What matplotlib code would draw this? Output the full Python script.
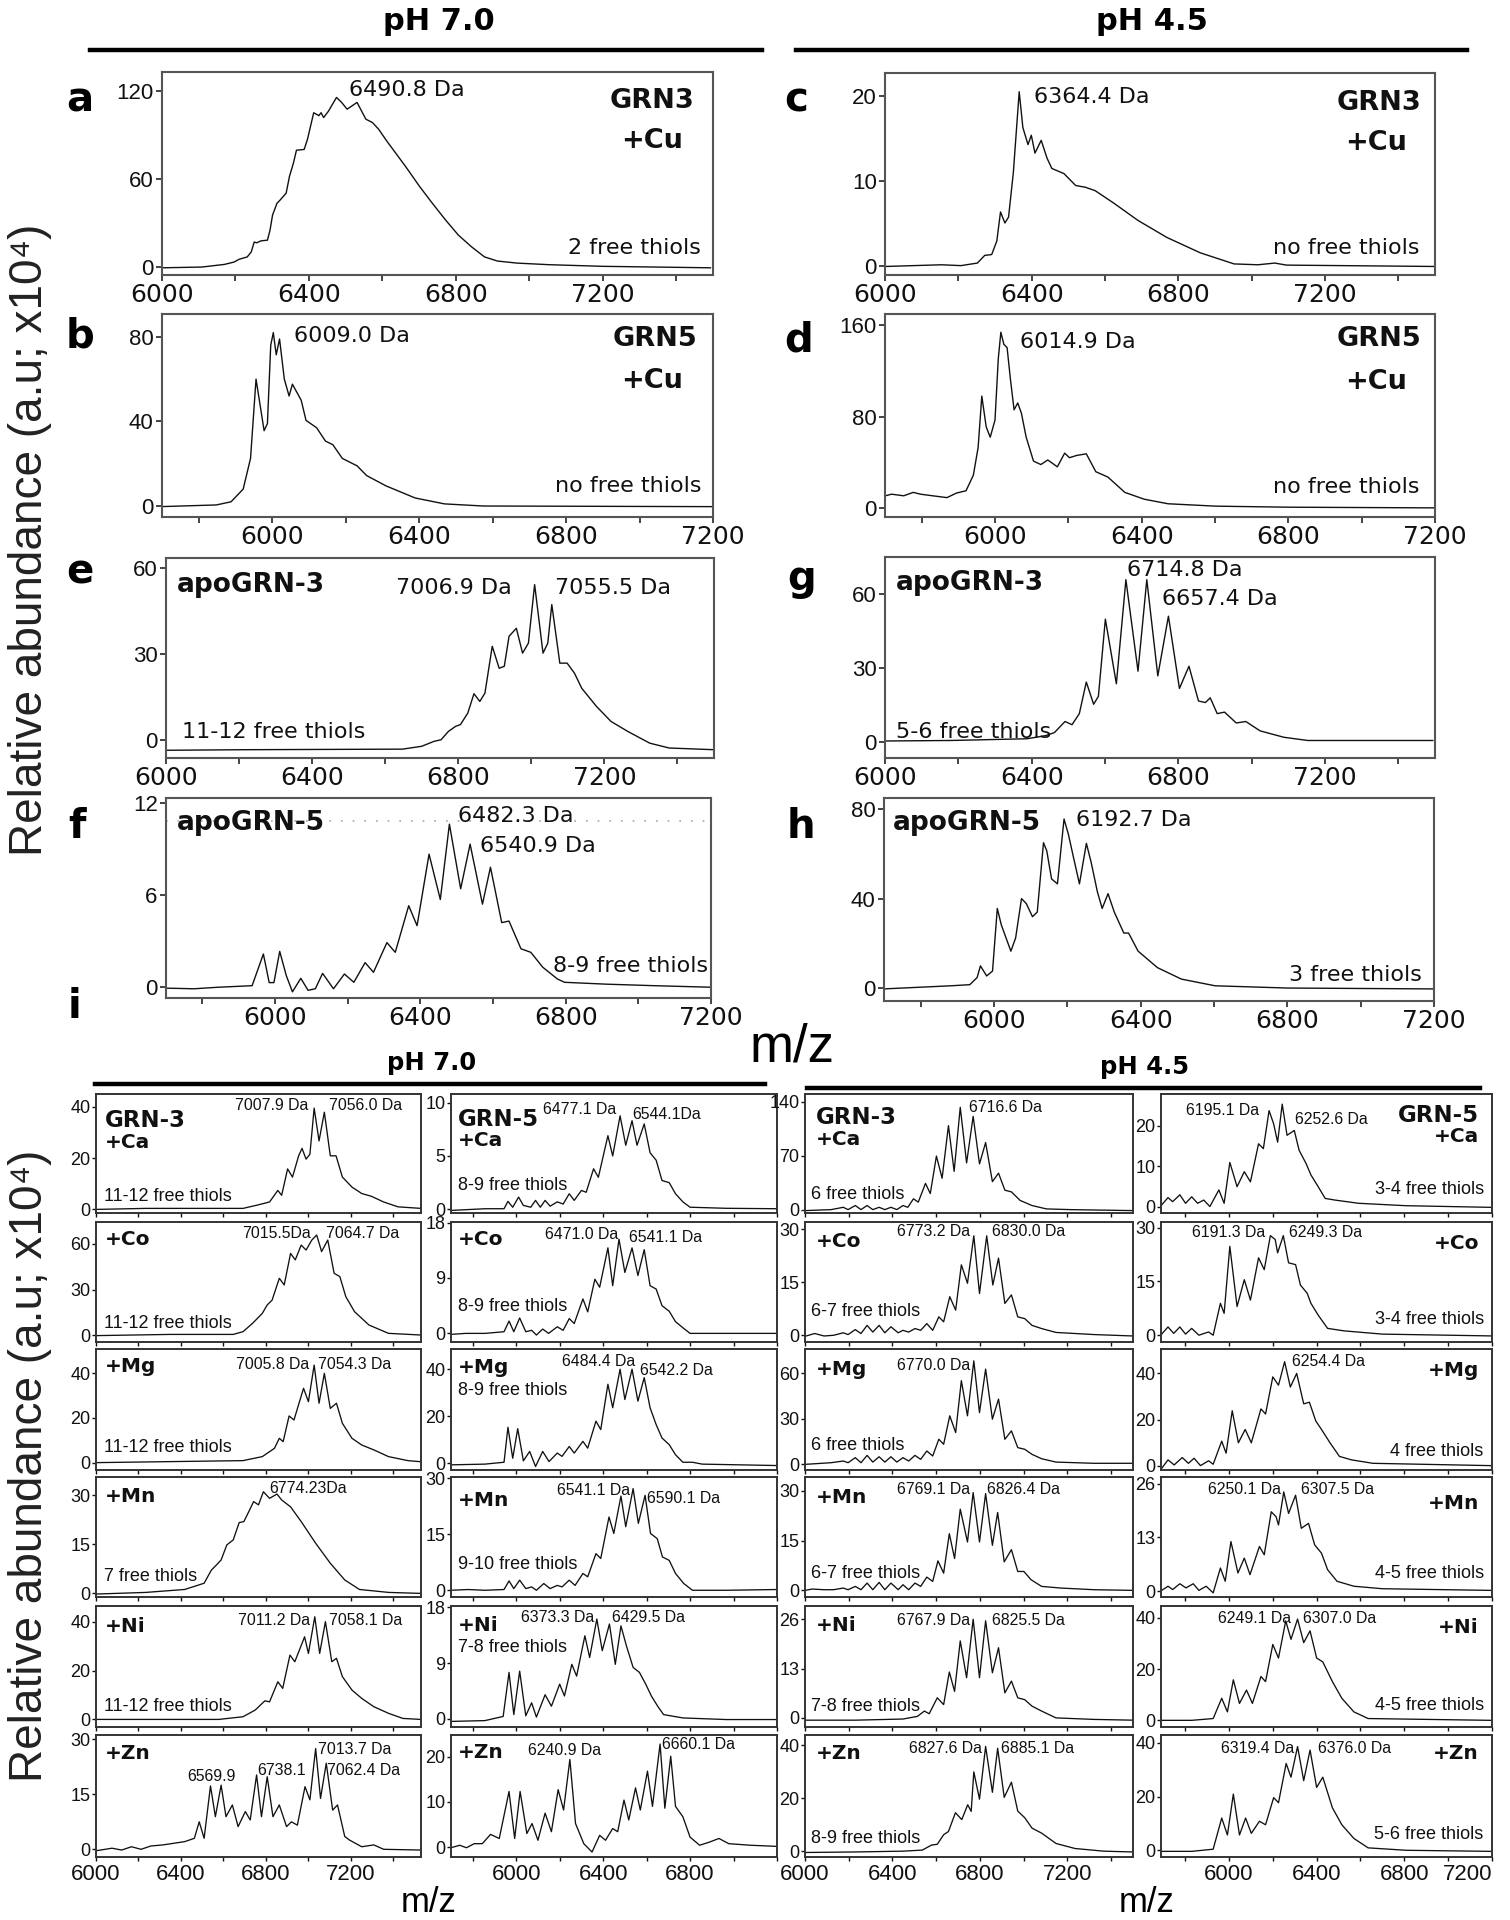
import matplotlib
matplotlib.use('Agg')
import matplotlib.pyplot as plt
from matplotlib.lines import Line2D
from matplotlib.ticker import MultipleLocator

plt.rcParams['font.family'] = ['DejaVu Sans']
NARROW = ['Liberation Sans Narrow', 'Liberation Sans', 'DejaVu Sans']
ARIAL = ['Liberation Sans', 'DejaVu Sans']

W, H = 1510, 1920

# ---------------- top panels (a-h) ----------------
a_mz = [6000, 6108, 6170, 6196, 6210, 6232, 6243, 6251, 6258, 6269, 6287, 6294, 6301, 6313, 6322, 6338, 6347, 6358,
        6366, 6387, 6396, 6413, 6427, 6433, 6440, 6453, 6475, 6489, 6504, 6531, 6555, 6573, 6590, 6612, 6639, 6666,
        6701, 6736, 6772, 6807, 6843, 6878, 6913, 6966, 7055, 7200, 7493]
a_int = [-0.5, 0, 1.8, 3.4, 5.3, 6.9, 10.3, 17, 16.5, 17.8, 18.3, 25, 35.4, 43.4, 45.7, 50.3, 61.7, 70.9,
         79.5, 80, 86.9, 105, 103, 105, 101.7, 106, 115.4, 112, 107.4, 112, 100.6, 98.3, 93.7, 85.7, 76.6, 67.4,
         54.9, 43.4, 32, 21.7, 13.7, 6.9, 4.1, 2.7, 1.6, 0.5, -0.5]

b_mz = [5696, 5848, 5888, 5921, 5941, 5956, 5978, 5987, 5996, 6003, 6011, 6020, 6033, 6046, 6055, 6079, 6092, 6121,
        6145, 6165, 6191, 6231, 6257, 6310, 6389, 6469, 6574, 7200]
b_int = [-0.3, 0.5, 2, 8, 22.5, 60, 35.6, 39, 76, 82, 71.5, 79, 60, 52, 57.6, 50, 40.5, 37,
         30.7, 29, 22.5, 19, 14.4, 9.5, 3.8, 1, 0, -0.3]

c_mz = [6000, 6154, 6207, 6252, 6272, 6291, 6305, 6315, 6327, 6337, 6350, 6366, 6376, 6390, 6399, 6409, 6426, 6442,
        6455, 6488, 6520, 6546, 6573, 6625, 6690, 6769, 6860, 6952, 7017, 7063, 7095, 7500]
c_int = [0, 0.2, 0.1, 0.4, 1.3, 1.4, 3, 6.4, 5.1, 5.8, 11, 20.5, 16.3, 14.3, 15.4, 13.3, 14.8, 12.7,
         11.5, 10.9, 9.5, 9.3, 8.9, 7.4, 5.4, 3.4, 1.6, 0.3, 0.2, 0.4, 0.16, 0]

d_mz = [5701, 5718, 5751, 5777, 5797, 5830, 5869, 5895, 5921, 5941, 5954, 5964, 5976, 5987, 6000, 6009, 6016, 6024,
        6033, 6042, 6052, 6062, 6072, 6085, 6105, 6125, 6144, 6170, 6190, 6203, 6223, 6249, 6275, 6308, 6354, 6407,
        6472, 6603, 6800, 7200]
d_int = [10.6, 12, 10.6, 13.6, 12, 10.6, 9, 13, 15, 28.7, 53, 98, 71, 62, 77, 131, 154, 143.5,
         140.5, 113, 86, 92, 83, 62, 41, 38, 42, 36, 48, 44, 46, 47.4, 31.7, 27, 13.6, 7.6,
         3.6, 1.5, 0.6, 0]

e_mz = [6000, 6210, 6647, 6700, 6733, 6753, 6773, 6793, 6806, 6826, 6843, 6859, 6873, 6893, 6912, 6926, 6939, 6959,
        6976, 6992, 7009, 7032, 7045, 7056, 7078, 7098, 7118, 7138, 7178, 7218, 7264, 7324, 7377, 7500]
e_int = [-3.7, -3.5, -3.3, -2.3, -0.6, 0, 2.9, 4.7, 5.3, 9.3, 16.1, 13.4, 16.3, 32.7, 25, 25.7, 36.2, 39,
         30.3, 33.8, 54.3, 30.3, 33.8, 47.3, 26.8, 26.8, 23.3, 18, 11.7, 6.4, 2.9, -1.2, -2.9, -3.5]

f_mz = [5700, 5777, 5844, 5937, 5968, 5984, 5997, 6013, 6031, 6048, 6071, 6091, 6111, 6131, 6161, 6191, 6217, 6248,
        6271, 6308, 6331, 6368, 6391, 6424, 6455, 6480, 6511, 6537, 6571, 6593, 6624, 6644, 6677, 6704, 6737, 6777,
        6797, 6911, 7044, 7200]
f_int = [-0.06, -0.1, 0, 0.1, 2.16, 0.3, 0.3, 2.33, 0.76, -0.3, 0.58, -0.2, -0.1, 0.9, -0.1, 0.86, 0.32, 1.6,
         0.97, 2.9, 2.27, 5.3, 4, 8.65, 5.7, 10.6, 6.4, 9.3, 5.4, 7.8, 4.2, 4.3, 2.5, 2.27, 1.3, 0.54,
         0.32, 0.2, 0.1, 0]

g_mz = [6000, 6179, 6387, 6439, 6462, 6491, 6510, 6530, 6549, 6569, 6582, 6601, 6631, 6657, 6690, 6714, 6744, 6773,
        6803, 6829, 6855, 6874, 6887, 6906, 6926, 6958, 6984, 7023, 7088, 7153, 7494]
g_int = [0.4, 0.6, 1.3, 2.6, 3.8, 8.3, 7, 11.5, 24.3, 15.3, 18.5, 49.8, 23.6, 65.8, 28.7, 65.8, 26.8, 51,
         21.7, 30.7, 16.6, 16, 17.9, 11.5, 12.1, 7.7, 8.3, 4.5, 1.9, 0.6, 0.6]

h_mz = [5698, 5790, 5882, 5934, 5954, 5963, 5980, 5996, 6009, 6020, 6046, 6059, 6075, 6088, 6105, 6118, 6135, 6144,
        6157, 6173, 6191, 6203, 6216, 6233, 6252, 6265, 6282, 6295, 6311, 6328, 6354, 6367, 6393, 6446, 6511, 6603,
        6800, 7200]
h_int = [-0.4, 0.3, 1, 1.5, 4.7, 9.9, 5.4, 7.6, 35.6, 28.2, 16.5, 22.4, 40, 37.8, 31.9, 34, 65, 61.3,
         48.8, 46.6, 75.6, 68.7, 59, 46.6, 64.7, 56.2, 43, 35.6, 42.2, 34, 24.6, 24.6, 16.5, 9.1, 4, 1,
         0, -0.4]

# ---------------- panel i: metal series ----------------
# pH 7.0, GRN-3
p7_g3_ca_mz = [6000, 6235, 6509, 6692, 6760, 6817, 6856, 6874, 6902, 6925, 6954, 6970, 6989, 7007, 7027, 7050, 7075,
               7103, 7130, 7160, 7205, 7251, 7297, 7354, 7422, 7530]
p7_g3_ca_y = [0, 0.4, 0.4, 0.4, 1.7, 2.9, 7.4, 5.5, 15.8, 12.6, 20.9, 23.8, 19.6, 21.5, 39.5, 26.7, 37.9,
              20.9, 20.9, 12.6, 8.7, 6.2, 5.1, 2.9, 1, 0.4]
p7_g3_co_mz = [6000, 6349, 6646, 6692, 6737, 6783, 6806, 6829, 6863, 6886, 6916, 6938, 6966, 6989, 7016, 7039, 7062,
               7091, 7121, 7148, 7176, 7217, 7285, 7377, 7530]
p7_g3_co_y = [-0.4, 0.4, 0.4, 2.2, 7.7, 14.3, 19.8, 23, 37.4, 33, 53.8, 49.5, 59.3, 56, 62.6, 65.9, 55,
              62.6, 40.7, 38.5, 25.3, 15.4, 6.6, 1.1, 0]
p7_g3_mg_mz = [6000, 6692, 6783, 6840, 6863, 6881, 6909, 6932, 6977, 7000, 7027, 7050, 7075, 7103, 7132, 7160, 7205,
               7251, 7308, 7377, 7468, 7530]
p7_g3_mg_y = [0, 0.9, 2.7, 6.4, 10.9, 9.4, 20.9, 19.1, 33.3, 27.3, 43.7, 26.6, 40, 24.3, 26.6, 17.6, 10.9,
              7.9, 5.7, 2.7, 0.9, 0.4]
p7_g3_mn_mz = [6000, 6235, 6418, 6509, 6543, 6566, 6589, 6616, 6646, 6674, 6696, 6719, 6742, 6765, 6788, 6817, 6852,
               6874, 6916, 6966, 7034, 7103, 7171, 7240, 7377, 7530]
p7_g3_mn_y = [-0.2, 0.3, 1.2, 3.1, 7.1, 8.6, 10.2, 14.8, 16.3, 21.6, 21.9, 24.9, 28, 27, 31, 29, 30.3,
              28.5, 26.4, 21.9, 15.3, 9.2, 4.1, 1.2, 0.3, 0]
p7_g3_ni_mz = [6000, 6578, 6692, 6749, 6795, 6817, 6856, 6879, 6913, 6936, 6982, 7000, 7030, 7053, 7080, 7110, 7132,
               7160, 7205, 7251, 7308, 7377, 7445, 7530]
p7_g3_ni_y = [0, 0, 1.1, 3.8, 7.6, 7.2, 15.4, 12.7, 26.3, 23.6, 33.8, 27, 42, 27, 40, 23.6, 25,
              17.5, 12, 8.6, 5.2, 2.5, 0.4, 0]
p7_g3_zn_mz = [6000, 6075, 6121, 6167, 6212, 6258, 6315, 6361, 6418, 6463, 6486, 6509, 6539, 6562, 6589, 6612, 6642,
               6669, 6703, 6726, 6756, 6779, 6806, 6833, 6863, 6897, 6920, 6948, 6984, 7007, 7034, 7057, 7084, 7114,
               7137, 7171, 7194, 7251, 7308, 7354, 7530]
p7_g3_zn_y = [-0.4, 0.3, -0.2, 0.7, 0, 0.9, 1.2, 1.6, 2.1, 3, 7.5, 3, 17.3, 8.9, 17.5, 8.9, 12.1,
              6.2, 10.3, 8, 20.3, 8.9, 19.8, 8.9, 12.1, 6.2, 7.5, 6.6, 17.1, 13.5, 27.5, 13.9, 23.5, 10.7,
              12.1, 3.5, 2.5, 0.7, 1.2, 0, -0.2]

# pH 7.0, GRN-5
p7_g5_ca_mz = [5700, 5856, 5944, 5962, 5984, 6011, 6033, 6067, 6089, 6111, 6133, 6156, 6189, 6216, 6244, 6267, 6300,
               6322, 6356, 6378, 6422, 6444, 6478, 6504, 6533, 6556, 6589, 6616, 6644, 6671, 6704, 6733, 6767, 6800,
               6967, 7200]
p7_g5_ca_y = [-0.1, 0.06, 0.06, 0.75, 0.2, 1.15, 0.37, 0.2, 0.84, 0.2, 0.84, 0.3, 0.7, 0.5, 1.46, 0.84, 1.77,
              1.6, 3.8, 3, 6.9, 5, 8.76, 6, 8.3, 6, 8, 5.3, 4.6, 2.7, 2.5, 1.46, 0.7, 0.2,
              0.1, 0.06]
p7_g5_co_mz = [5700, 5767, 5856, 5944, 5967, 5989, 6016, 6044, 6071, 6093, 6122, 6149, 6189, 6216, 6244, 6267, 6307,
               6329, 6362, 6384, 6422, 6444, 6473, 6500, 6533, 6560, 6589, 6616, 6644, 6671, 6704, 6733, 6771, 6800,
               6967, 7200]
p7_g5_co_y = [-0.16, 0, 0, 0.27, 2, 0.27, 2.5, 0.27, 0.5, -0.27, 0.7, 0, 1.07, 0.5, 2.4, 1.6, 5.6,
              3.5, 8.8, 7.5, 13.9, 7.75, 15.3, 9.9, 13.9, 9.4, 13.6, 7.75, 7.2, 4.5, 3.6, 1.9, 0.8, 0,
              0, 0]
p7_g5_mg_mz = [5700, 5856, 5944, 5962, 5984, 6007, 6033, 6062, 6089, 6122, 6151, 6189, 6211, 6244, 6267, 6307, 6329,
               6367, 6389, 6422, 6444, 6478, 6500, 6533, 6560, 6589, 6616, 6644, 6671, 6704, 6733, 6767, 6811, 6856,
               7200]
p7_g5_mg_y = [-0.7, -0.4, 0.4, 15.3, 2.1, 14.7, 1, 5, -1.4, 5, 0.7, 4.3, 2.9, 7.1, 4.3, 9.3, 6.4,
              17.9, 14.3, 33.6, 23.6, 40, 27.1, 40, 26.4, 36.4, 23.6, 16.4, 10.7, 7.9, 3.6, 0.4, 0.4, -0.4,
              -1]
p7_g5_mn_mz = [5700, 5778, 5856, 5944, 5967, 5989, 6016, 6044, 6071, 6093, 6127, 6156, 6189, 6211, 6244, 6271, 6307,
               6329, 6367, 6389, 6427, 6449, 6482, 6504, 6538, 6562, 6593, 6618, 6649, 6673, 6704, 6733, 6771, 6811,
               6967, 7200]
p7_g5_mn_y = [0, 0.2, 0, 0.2, 2.5, 0.45, 2.7, 0.45, 0.9, 0, 1.8, 0.45, 1.3, 0.9, 2.7, 1.3, 4.5,
              3.6, 9.8, 8.5, 19.6, 15.2, 25.2, 17, 27.2, 17.9, 25.4, 15.2, 13.8, 8.9, 8, 4.5, 1.8, 0,
              0, 0.2]
p7_g5_ni_mz = [5700, 5856, 5940, 5967, 5989, 6016, 6044, 6071, 6093, 6133, 6162, 6200, 6222, 6256, 6278, 6316, 6338,
               6371, 6396, 6429, 6456, 6482, 6507, 6538, 6567, 6596, 6622, 6651, 6678, 6711, 6767, 6967, 7200]
p7_g5_ni_y = [-0.4, -0.27, 0.4, 7.5, 0.7, 7.7, 0.5, 2.6, 0.3, 3.9, 2.05, 5.6, 3.7, 8.8, 6.9, 13.4, 9.9,
              16.1, 11, 15.3, 8.8, 15, 11.8, 8.3, 7.5, 5.6, 3.7, 2.05, 0.7, 0.5, 0.16, -0.1, -0.1]
p7_g5_zn_mz = [5700, 5740, 5771, 5807, 5844, 5882, 5922, 5967, 5993, 6018, 6049, 6073, 6100, 6133, 6162, 6193, 6218,
               6247, 6273, 6311, 6349, 6384, 6411, 6444, 6467, 6496, 6518, 6549, 6571, 6604, 6627, 6662, 6684, 6711,
               6733, 6767, 6800, 6844, 6889, 6933, 6978, 7078, 7200]
p7_g5_zn_y = [-0.15, 0.4, -0.15, 0.75, 0.75, 2.8, 1.9, 12.3, 1.9, 12.3, 3, 5.2, 1.5, 7.5, 3.4, 12.7, 8.2,
              19.4, 5.2, 0.75, -1.1, 2.6, 1.5, 4.1, 3.4, 10.4, 6, 13.1, 8.2, 16.8, 9, 22.8, 8.6, 20.1,
              9, 6.7, 2.2, 0.4, 1.1, 1.9, 0.75, 0.4, 0.15]

# pH 4.5, GRN-3
p45_g3_ca_mz = [6000, 6120, 6175, 6197, 6230, 6256, 6284, 6310, 6339, 6365, 6393, 6420, 6448, 6470, 6496, 6518, 6551,
                6573, 6601, 6627, 6656, 6682, 6710, 6739, 6769, 6798, 6826, 6857, 6885, 6914, 6944, 6984, 7038, 7104,
                7213, 7500]
p45_g3_ca_y = [-1.3, 0, 3, 0, 5.3, 0, 5.3, 0, 3, 0, 3, 0, 5.3, 3, 14, 9.7, 34,
               20.8, 69.5, 40.7, 109, 49.6, 132.7, 60.6, 121, 59.3, 87, 36.3, 47.3, 25.2, 23, 11.9, 5.3, 0.9,
               0, -1.3]
p45_g3_co_mz = [6000, 6044, 6087, 6131, 6175, 6197, 6230, 6256, 6284, 6310, 6339, 6365, 6393, 6426, 6448, 6474, 6503,
                6529, 6557, 6584, 6612, 6634, 6662, 6689, 6715, 6743, 6772, 6798, 6831, 6859, 6885, 6914, 6944, 6973,
                7005, 7038, 7082, 7148, 7322, 7500]
p45_g3_co_y = [-0.3, 0.5, -0.2, 0, 0.7, 0.2, 1.6, 0.5, 2.8, 0.9, 2.8, 0.7, 2.4, 0.7, 1.4, 0.9, 1.9,
               1.4, 3.3, 1.4, 5.2, 3.8, 10.9, 7.1, 19.9, 14.7, 28.1, 11.8, 28.1, 14.2, 21.8, 9, 11.4, 5.2,
               4.7, 2.8, 1.9, 0.8, 0.2, -0.2]
p45_g3_mg_mz = [6000, 6120, 6175, 6197, 6230, 6256, 6284, 6310, 6339, 6365, 6393, 6420, 6448, 6474, 6503, 6529, 6557,
                6584, 6612, 6634, 6662, 6689, 6715, 6743, 6772, 6798, 6826, 6857, 6885, 6914, 6944, 6973, 7005, 7038,
                7082, 7148, 7322, 7500]
p45_g3_mg_y = [0, 1.1, 2.2, 1.1, 4.4, 1.1, 5.9, 1.5, 5, 1.5, 5, 1.5, 4.4, 2.2, 5.9, 3.3, 8.8,
               5.5, 16.5, 13.2, 31.9, 20.9, 55, 31.9, 68, 34, 62.6, 29.7, 42.9, 16.5, 22, 11, 9.9, 6.6,
               3.7, 1.5, 0.7, 0.7]
p45_g3_mn_mz = [6000, 6033, 6087, 6131, 6175, 6197, 6230, 6256, 6284, 6310, 6339, 6365, 6393, 6426, 6448, 6474, 6503,
                6529, 6557, 6584, 6608, 6634, 6660, 6684, 6710, 6743, 6769, 6798, 6826, 6857, 6881, 6911, 6944, 6973,
                7001, 7034, 7082, 7169, 7322, 7500]
p45_g3_mn_y = [0, 0.4, 0.2, 0.2, 0.7, 0.2, 1.2, 0.2, 2.2, 0.2, 2.4, 0.2, 2.2, 0.2, 1.7, 0.2, 2.2,
               1.2, 4, 2.7, 8.9, 5.2, 17.1, 9.6, 24.5, 14.6, 29.5, 14.6, 29.2, 13.6, 23.5, 8.6, 12.3, 5.7,
               5.7, 3.2, 1.2, 0.7, 0.2, 0]
p45_g3_ni_mz = [6000, 6230, 6448, 6514, 6546, 6568, 6605, 6634, 6660, 6684, 6710, 6739, 6769, 6798, 6826, 6857, 6885,
                6914, 6944, 6973, 7005, 7038, 7082, 7148, 7322, 7500]
p45_g3_ni_y = [-0.6, -0.6, -0.3, 0.4, 1.8, 1.1, 5.3, 3.5, 12.1, 7, 20.3, 10.6, 26, 10.6, 25.6, 11.9, 18.5,
               6.6, 9.7, 5.3, 4.8, 3.1, 1.8, 0, -0.4, -0.6]
p45_g3_zn_mz = [6000, 6230, 6448, 6536, 6579, 6605, 6634, 6656, 6688, 6717, 6744, 6760, 6772, 6798, 6826, 6857, 6881,
                6911, 6944, 6973, 7005, 7038, 7082, 7148, 7235, 7366, 7500]
p45_g3_zn_y = [-0.5, -0.3, 0, 0.4, 2.3, 2.6, 6.2, 7.4, 14.5, 11.9, 17.5, 15, 29.9, 19.6, 39.5, 22.2, 38.8,
               20.3, 26, 15.1, 12.6, 8.7, 6.8, 2.9, 1, 0, -0.3]

# pH 4.5, GRN-5
p45_g5_ca_mz = [5693, 5722, 5743, 5776, 5802, 5830, 5857, 5885, 5913, 5954, 5978, 6004, 6037, 6070, 6098, 6135, 6157,
                6183, 6204, 6222, 6243, 6265, 6298, 6320, 6352, 6374, 6407, 6439, 6483, 6591, 6809, 7193]
p45_g5_ca_y = [0.4, 2.2, 1.2, 2.9, 0.8, 2.4, 0.8, 1.6, 0, 4.1, 0.8, 10.9, 4.9, 8.6, 6.1, 15.5, 14.3,
               23.7, 20.4, 15.9, 25.3, 17.6, 18.8, 13.9, 10.6, 7.8, 4.9, 2, 1.6, 0.8, 0.2, -0.2]
p45_g5_co_mz = [5693, 5722, 5748, 5776, 5802, 5830, 5863, 5907, 5928, 5961, 5978, 6004, 6037, 6070, 6098, 6135, 6161,
                6189, 6211, 6222, 6248, 6272, 6304, 6326, 6357, 6374, 6407, 6450, 6526, 6700, 7193]
p45_g5_co_y = [0.3, 2.3, 0.5, 2.3, 0.3, 1.9, 0, 0.9, 0, 8.9, 6.1, 24.8, 8, 15.5, 9.8, 21.6, 18.3,
               27.8, 26.7, 23, 27.8, 20.2, 19.7, 14, 11.7, 8.9, 5.6, 1.9, 1.2, 0.3, -0.2]
p45_g5_mg_mz = [5693, 5722, 5750, 5787, 5815, 5841, 5870, 5907, 5928, 5967, 5987, 6015, 6043, 6074, 6102, 6146, 6167,
                6200, 6226, 6254, 6280, 6309, 6341, 6367, 6396, 6422, 6461, 6504, 6559, 6657, 7193]
p45_g5_mg_y = [-1.2, 2.5, 0.3, 3.5, 1, 3.2, 0, 2.1, 0.6, 10.6, 5.4, 23.8, 9.9, 15.7, 9.9, 24.6, 22.4,
               38.5, 34.9, 45.1, 34.1, 40, 26.8, 27.5, 19.4, 15.7, 9.9, 4, 2.5, 1, 0]
p45_g5_mn_mz = [5693, 5722, 5743, 5776, 5804, 5837, 5863, 5896, 5928, 5961, 5983, 6009, 6041, 6070, 6096, 6139, 6161,
                6193, 6215, 6226, 6250, 6272, 6304, 6330, 6363, 6391, 6422, 6450, 6493, 6570, 6700, 7193]
p45_g5_mn_y = [0.2, 1.2, 0.4, 1.8, 0.8, 1.8, 0.2, 1.2, -0.4, 5.6, 2.4, 12, 4.4, 8, 4, 10.8, 8.8,
               19.2, 18, 16, 24, 18.8, 23.2, 15.2, 16.4, 11.2, 9.2, 5.2, 2.4, 1.2, 0.6, 0.2]
p45_g5_ni_mz = [5693, 5830, 5928, 5967, 5993, 6020, 6048, 6080, 6107, 6146, 6167, 6200, 6226, 6259, 6283, 6313, 6341,
                6370, 6400, 6428, 6472, 6515, 6570, 6635, 7193]
p45_g5_ni_y = [0, 0, 0.7, 8.6, 3.3, 15.8, 6.6, 11.8, 6.6, 17.1, 15.1, 29.6, 24.3, 38.8, 31.6, 39.5, 30.3,
               34.9, 24.3, 22.8, 15.1, 8.6, 3.3, 0.7, 0]
p45_g5_zn_mz = [5693, 5830, 5928, 5967, 5993, 6020, 6048, 6076, 6102, 6139, 6167, 6204, 6226, 6261, 6283, 6313, 6341,
                6370, 6400, 6428, 6472, 6515, 6570, 6635, 6809, 7193]
p45_g5_zn_y = [-0.4, -0.4, 0.4, 12, 5.7, 20.9, 5.7, 12, 6.3, 10.8, 9.5, 19.6, 17.7, 32.3, 27.2, 38.6, 25.9,
               37.3, 23.4, 27.2, 15.8, 9.5, 4.4, 0.9, 0, -0.4]

TICK_LABELS = [6000, 6400, 6800, 7200]


def rect(x0, y0, x1, y1):
    return [x0 / W, 1 - y1 / H, (x1 - x0) / W, (y1 - y0) / H]


fig = plt.figure(figsize=(W / 100, H / 100), dpi=100)

N, B = 'normal', 'bold'
DJ, AR = 'dj', 'ar'


def put_texts(ax, texts, fam):
    for fx, fy, s, ha, wt, fs in texts:
        family = ['DejaVu Sans'] if (wt == B or fam == DJ) else ARIAL
        ax.text(fx, fy, s, transform=ax.transAxes, ha=ha, va='center',
                fontweight=wt, fontsize=fs, color='#111', family=family)


# ---------- top panels ----------
TP, TB, TA = 16, 19.5, 19   # peak/thiol label, GRNx/+Cu, apoGRN sizes
top = [
    ((162, 72, 713, 275), a_mz, a_int, (6000, 7500), (-5.4, 132.7), [0, 60, 120],
     [(0.339, 0.912, '6490.8 Da', 'left', N, TP), (0.89, 0.855, 'GRN3', 'center', B, TB),
      (0.89, 0.66, '+Cu', 'center', B, TB), (0.978, 0.133, '2 free thiols', 'right', N, TP)]),
    ((162, 314, 713, 517), b_mz, b_int, (5700, 7200), (-5.2, 90.8), [0, 40, 80],
     [(0.24, 0.893, '6009.0 Da', 'left', N, TP), (0.894, 0.876, 'GRN5', 'center', B, TB),
      (0.89, 0.672, '+Cu', 'center', B, TB), (0.98, 0.153, 'no free thiols', 'right', N, TP)]),
    ((885, 73, 1435, 275), c_mz, c_int, (6000, 7500), (-1, 22.7), [0, 10, 20],
     [(0.27, 0.88, '6364.4 Da', 'left', N, TP), (0.898, 0.85, 'GRN3', 'center', B, TB),
      (0.892, 0.655, '+Cu', 'center', B, TB), (0.972, 0.136, 'no free thiols', 'right', N, TP)]),
    ((885, 314, 1435, 517), d_mz, d_int, (5700, 7200), (-8, 170), [0, 80, 160],
     [(0.246, 0.86, '6014.9 Da', 'left', N, TP), (0.898, 0.876, 'GRN5', 'center', B, TB),
      (0.892, 0.664, '+Cu', 'center', B, TB), (0.972, 0.147, 'no free thiols', 'right', N, TP)]),
    ((166, 558, 714, 758), e_mz, e_int, (6000, 7500), (-6.4, 63.6), [0, 30, 60],
     [(0.02, 0.867, 'apoGRN-3', 'left', B, TA), (0.419, 0.85, '7006.9 Da', 'left', N, TP),
      (0.71, 0.85, '7055.5 Da', 'left', N, TP), (0.029, 0.128, '11-12 free thiols', 'left', N, TP)]),
    ((166, 798, 711, 998), f_mz, f_int, (5700, 7200), (-0.7, 12.3), [0, 6, 12],
     [(0.02, 0.875, 'apoGRN-5', 'left', B, TA), (0.536, 0.908, '6482.3 Da', 'left', N, TP),
      (0.576, 0.758, '6540.9 Da', 'left', N, TP), (0.994, 0.158, '8-9 free thiols', 'right', N, TP)]),
    ((885, 557, 1435, 758), g_mz, g_int, (6000, 7500), (-6.5, 75), [0, 30, 60],
     [(0.02, 0.87, 'apoGRN-3', 'left', B, TA), (0.44, 0.934, '6714.8 Da', 'left', N, TP),
      (0.503, 0.791, '6657.4 Da', 'left', N, TP), (0.02, 0.128, '5-6 free thiols', 'left', N, TP)]),
    ((884, 798, 1434, 1001), h_mz, h_int, (5700, 7200), (-5.8, 85), [0, 40, 80],
     [(0.016, 0.876, 'apoGRN-5', 'left', B, TA), (0.35, 0.893, '6192.7 Da', 'left', N, TP),
      (0.978, 0.127, '3 free thiols', 'right', N, TP)]),
]

top_axes = []
for box, mz, inten, xl, yl, yt, texts in top:
    ax = fig.add_axes(rect(*box))
    ax.plot(mz, inten, color='#111', lw=1.0)
    ax.set_xlim(*xl)
    ax.set_ylim(*yl)
    ax.set_xticks(TICK_LABELS)
    ax.xaxis.set_minor_locator(MultipleLocator(200))
    ax.set_yticks(yt)
    ax.set_yticklabels([str(v) for v in yt], family=NARROW, fontsize=16)
    ax.tick_params(axis='x', which='major', labelsize=18, length=4, width=1.1, pad=2, colors='#111')
    ax.tick_params(axis='x', which='minor', length=4, width=1.1, color='#111')
    ax.tick_params(axis='y', length=4, width=1.1, pad=2, colors='#111')
    for s in ax.spines.values():
        s.set_color('#555')
        s.set_linewidth(1.5)
    put_texts(ax, texts, DJ)
    top_axes.append(ax)

# faint dotted line in panel f
top_axes[5].axhline(10.8, color='0.65', lw=1.2, ls=(0, (1, 6)))

# ---------- bottom grid (panel i) ----------
cols = [
    ((96, 421), (6000, 7530), [6000, 6400, 6800, 7200]),
    ((451, 777), (5700, 7200), [6000, 6400, 6800]),
    ((805, 1133), (6000, 7500), [6000, 6400, 6800, 7200]),
    ((1161, 1492), (5690, 7200), [6000, 6400, 6800, 7200]),
]
rows = [(1094, 1213), (1222, 1342), (1349, 1470), (1477, 1597), (1606, 1727), (1735, 1857)]

P, M, T, G = 11.4, 14.5, 13, 16.5  # peak label, metal label, thiol label, GRN label sizes
grid = [
    # column 1: pH 7.0 GRN-3
    [(p7_g3_ca_mz, p7_g3_ca_y, (-1.4, 45), [0, 20, 40],
      [(0.027, 0.775, 'GRN-3', 'left', B, G), (0.027, 0.594, '+Ca', 'left', B, M),
       (0.653, 0.9, '7007.9 Da', 'right', N, P), (0.717, 0.9, '7056.0 Da', 'left', N, P),
       (0.024, 0.142, '11-12 free thiols', 'left', N, T)]),
     (p7_g3_co_mz, p7_g3_co_y, (-4.6, 74.5), [0, 30, 60],
      [(0.027, 0.855, '+Co', 'left', B, M), (0.66, 0.905, '7015.5Da', 'right', N, P),
       (0.708, 0.905, '7064.7 Da', 'left', N, P), (0.024, 0.155, '11-12 free thiols', 'left', N, T)]),
     (p7_g3_mg_mz, p7_g3_mg_y, (-3.3, 50.9), [0, 20, 40],
      [(0.027, 0.854, '+Mg', 'left', B, M), (0.656, 0.868, '7005.8 Da', 'right', N, P),
       (0.683, 0.868, '7054.3 Da', 'left', N, P), (0.024, 0.187, '11-12 free thiols', 'left', N, T)]),
     (p7_g3_mn_mz, p7_g3_mn_y, (-1.1, 35.5), [0, 15, 30],
      [(0.027, 0.836, '+Mn', 'left', B, M), (0.534, 0.906, '6774.23Da', 'left', N, P),
       (0.024, 0.17, '7 free thiols', 'left', N, T)]),
     (p7_g3_ni_mz, p7_g3_ni_y, (-3.1, 46.4), [0, 20, 40],
      [(0.027, 0.829, '+Ni', 'left', B, M), (0.66, 0.884, '7011.2 Da', 'right', N, P),
       (0.717, 0.884, '7058.1 Da', 'left', N, P), (0.024, 0.168, '11-12 free thiols', 'left', N, T)]),
     (p7_g3_zn_mz, p7_g3_zn_y, (-2.1, 31.2), [0, 15, 30],
      [(0.027, 0.85, '+Zn', 'left', B, M), (0.355, 0.658, '6569.9', 'center', N, P),
       (0.571, 0.713, '6738.1', 'center', N, P), (0.683, 0.883, '7013.7 Da', 'left', N, P),
       (0.712, 0.713, '7062.4 Da', 'left', N, P)])],
    # column 2: pH 7.0 GRN-5
    [(p7_g5_ca_mz, p7_g5_ca_y, (-0.34, 10.8), [0, 5, 10],
      [(0.02, 0.786, 'GRN-5', 'left', B, G), (0.02, 0.606, '+Ca', 'left', B, M),
       (0.508, 0.87, '6477.1 Da', 'right', N, P), (0.557, 0.828, '6544.1Da', 'left', N, P),
       (0.022, 0.23, '8-9 free thiols', 'left', N, T)]),
     (p7_g5_co_mz, p7_g5_co_y, (-1.4, 18.1), [0, 9, 18],
      [(0.02, 0.853, '+Co', 'left', B, M), (0.513, 0.894, '6471.0 Da', 'right', N, P),
       (0.547, 0.872, '6541.1 Da', 'left', N, P), (0.022, 0.297, '8-9 free thiols', 'left', N, T)]),
     (p7_g5_mg_mz, p7_g5_mg_y, (-2.9, 48.6), [0, 20, 40],
      [(0.02, 0.847, '+Mg', 'left', B, M), (0.565, 0.9, '6484.4 Da', 'right', N, P),
       (0.58, 0.82, '6542.2 Da', 'left', N, P), (0.022, 0.653, '8-9 free thiols', 'left', N, T)]),
     (p7_g5_mn_mz, p7_g5_mn_y, (-1.8, 30.3), [0, 15, 30],
      [(0.02, 0.8, '+Mn', 'left', B, M), (0.55, 0.89, '6541.1 Da', 'right', N, P),
       (0.6, 0.82, '6590.1 Da', 'left', N, P), (0.022, 0.268, '9-10 free thiols', 'left', N, T)]),
     (p7_g5_ni_mz, p7_g5_ni_y, (-1.3, 18.2), [0, 9, 18],
      [(0.02, 0.84, '+Ni', 'left', B, M), (0.438, 0.908, '6373.3 Da', 'right', N, P),
       (0.493, 0.908, '6429.5 Da', 'left', N, P), (0.022, 0.658, '7-8 free thiols', 'left', N, T)]),
     (p7_g5_zn_mz, p7_g5_zn_y, (-2.2, 24.8), [0, 10, 20],
      [(0.02, 0.856, '+Zn', 'left', B, M), (0.349, 0.87, '6240.9 Da', 'center', N, P),
       (0.646, 0.925, '6660.1 Da', 'left', N, P)])],
    # column 3: pH 4.5 GRN-3
    [(p45_g3_ca_mz, p45_g3_ca_y, (-4.4, 150), [0, 70, 140],
      [(0.034, 0.806, 'GRN-3', 'left', B, G), (0.034, 0.62, '+Ca', 'left', B, M),
       (0.5, 0.89, '6716.6 Da', 'left', N, P), (0.019, 0.154, '6 free thiols', 'left', N, T)]),
     (p45_g3_co_mz, p45_g3_co_y, (-1.9, 32), [0, 15, 30],
      [(0.034, 0.838, '+Co', 'left', B, M), (0.504, 0.92, '6773.2 Da', 'right', N, P),
       (0.569, 0.92, '6830.0 Da', 'left', N, P), (0.019, 0.25, '6-7 free thiols', 'left', N, T)]),
     (p45_g3_mg_mz, p45_g3_mg_y, (-3.7, 75.8), [0, 30, 60],
      [(0.034, 0.834, '+Mg', 'left', B, M), (0.282, 0.862, '6770.0 Da', 'left', N, P),
       (0.019, 0.204, '6 free thiols', 'left', N, T)]),
     (p45_g3_mn_mz, p45_g3_mn_y, (-2, 34.2), [0, 15, 30],
      [(0.034, 0.83, '+Mn', 'left', B, M), (0.504, 0.9, '6769.1 Da', 'right', N, P),
       (0.555, 0.9, '6826.4 Da', 'left', N, P), (0.019, 0.198, '6-7 free thiols', 'left', N, T)]),
     (p45_g3_ni_mz, p45_g3_ni_y, (-2.4, 29.5), [0, 13, 26],
      [(0.034, 0.84, '+Ni', 'left', B, M), (0.504, 0.884, '6767.9 Da', 'right', N, P),
       (0.569, 0.884, '6825.5 Da', 'left', N, P), (0.019, 0.171, '7-8 free thiols', 'left', N, T)]),
     (p45_g3_zn_mz, p45_g3_zn_y, (-2.2, 43.8), [0, 20, 40],
      [(0.034, 0.847, '+Zn', 'left', B, M), (0.54, 0.889, '6827.6 Da', 'right', N, P),
       (0.598, 0.889, '6885.1 Da', 'left', N, P), (0.019, 0.153, '8-9 free thiols', 'left', N, T)])],
    # column 4: pH 4.5 GRN-5
    [(p45_g5_ca_mz, p45_g5_ca_y, (-1.6, 27.8), [0, 10, 20],
      [(0.961, 0.82, 'GRN-5', 'right', B, G), (0.961, 0.64, '+Ca', 'right', B, M),
       (0.077, 0.861, '6195.1 Da', 'left', N, P), (0.405, 0.786, '6252.6 Da', 'left', N, P),
       (0.975, 0.194, '3-4 free thiols', 'right', N, T)]),
     (p45_g5_co_mz, p45_g5_co_y, (-1.9, 31.6), [0, 15, 30],
      [(0.961, 0.82, '+Co', 'right', B, M), (0.094, 0.91, '6191.3 Da', 'left', N, P),
       (0.386, 0.91, '6249.3 Da', 'left', N, P), (0.975, 0.188, '3-4 free thiols', 'right', N, T)]),
     (p45_g5_mg_mz, p45_g5_mg_y, (-1.9, 50.6), [0, 20, 40],
      [(0.961, 0.82, '+Mg', 'right', B, M), (0.395, 0.896, '6254.4 Da', 'left', N, P),
       (0.975, 0.154, '4 free thiols', 'right', N, T)]),
     (p45_g5_mn_mz, p45_g5_mn_y, (-1.4, 27.6), [0, 13, 26],
      [(0.961, 0.78, '+Mn', 'right', B, M), (0.142, 0.898, '6250.1 Da', 'left', N, P),
       (0.423, 0.898, '6307.5 Da', 'left', N, P), (0.975, 0.2, '4-5 free thiols', 'right', N, T)]),
     (p45_g5_ni_mz, p45_g5_ni_y, (-2.6, 44.6), [0, 20, 40],
      [(0.961, 0.82, '+Ni', 'right', B, M), (0.173, 0.897, '6249.1 Da', 'left', N, P),
       (0.429, 0.897, '6307.0 Da', 'left', N, P), (0.975, 0.18, '4-5 free thiols', 'right', N, T)]),
     (p45_g5_zn_mz, p45_g5_zn_y, (-2.5, 42.9), [0, 20, 40],
      [(0.961, 0.847, '+Zn', 'right', B, M), (0.18, 0.889, '6319.4 Da', 'left', N, P),
       (0.473, 0.889, '6376.0 Da', 'left', N, P), (0.975, 0.186, '5-6 free thiols', 'right', N, T)])],
]

for ci, ((x0, x1), xl, xt) in enumerate(cols):
    for ri, (y0, y1) in enumerate(rows):
        mz, inten, yl, yt, texts = grid[ci][ri]
        ax = fig.add_axes(rect(x0, y0, x1, y1))
        ax.plot(mz, inten, color='#111', lw=0.95)
        ax.set_xlim(*xl)
        ax.set_ylim(*yl)
        ax.set_xticks(xt)
        ax.set_xticklabels([str(v) for v in xt], family=NARROW, fontsize=16)
        ax.xaxis.set_minor_locator(MultipleLocator(200))
        ax.set_yticks(yt)
        ax.set_yticklabels([str(v) for v in yt], family=NARROW, fontsize=13)
        ax.tick_params(axis='x', which='both', length=3, width=1, pad=2,
                       labelbottom=(ri == len(rows) - 1), colors='#111')
        ax.tick_params(axis='y', length=3, width=1, pad=1, colors='#111')
        for s in ax.spines.values():
            s.set_color('#333')
            s.set_linewidth(1.4)
        if ci == 3 and ri == len(rows) - 1:
            ax.get_xticklabels()[-1].set_horizontalalignment('right')
        put_texts(ax, texts, AR)


# ---------- headers, letters, axis titles ----------
def header(txt, xc, yc, x0, x1, yl, fs):
    fig.text(xc / W, 1 - yc / H, txt, ha='center', va='center', fontsize=fs, fontweight='bold')
    fig.add_artist(Line2D([x0 / W, x1 / W], [1 - yl / H] * 2, color='black', lw=3.2))


header('pH 7.0', 439, 22, 90, 762, 50, 22)
header('pH 4.5', 1152, 22, 796, 1467, 50, 22)
header('pH 7.0', 432, 1063, 95, 765, 1084, 17.5)
header('pH 4.5', 1145, 1067, 807, 1480, 1088, 17.5)

letters = [('a', 66, 112), ('b', 66, 348), ('c', 784, 112), ('d', 784, 351), ('e', 66, 583),
           ('f', 68, 838), ('g', 787, 590), ('h', 787, 838), ('i', 68, 1018)]
for s, x, y in letters:
    fig.text(x / W, 1 - y / H, s, ha='left', va='baseline', fontsize=29, fontweight='bold')

ylab = 'Relative abundance (a.u; x10\u2074)'
for yc in (540, 1466):
    fig.text(30 / W, 1 - yc / H, ylab, rotation=90, ha='center', va='center', fontsize=33,
             family=ARIAL, color='#222')
fig.text(792 / W, 1 - 1047 / H, 'm/z', ha='center', va='center', fontsize=38, family=ARIAL)
fig.text(429 / W, 1 - 1902 / H, 'm/z', ha='center', va='center', fontsize=25, family=ARIAL)
fig.text(1147 / W, 1 - 1903 / H, 'm/z', ha='center', va='center', fontsize=25, family=ARIAL)

fig.savefig('out.png', dpi=100, facecolor='white')
